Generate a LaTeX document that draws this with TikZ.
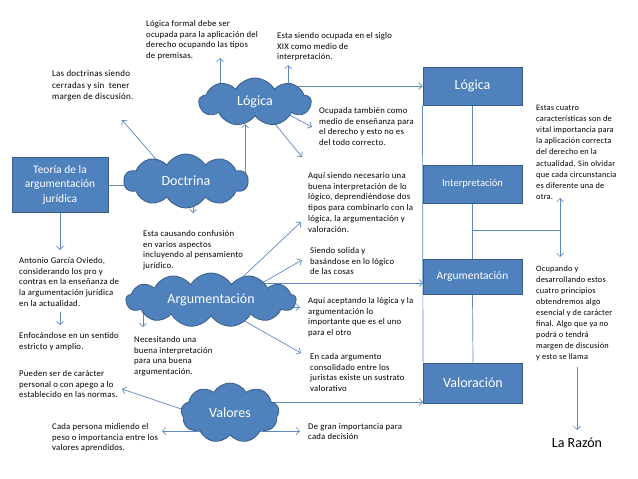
\documentclass[tikz,border=0pt]{standalone}
\usepackage{fontspec}
\setmainfont{Carlito}
\newfontfamily\smallfont[LetterSpace=2.5]{Carlito}
\usetikzlibrary{shapes.symbols,arrows.meta}
\pgfdeclarelayer{background}
\pgfsetlayers{background,main}
\definecolor{boxblue}{HTML}{4F81BD}
\definecolor{boxedge}{HTML}{385D8A}
\definecolor{linkblue}{HTML}{5B87C2}
\tikzset{
  bluebox/.style={draw=boxedge, line width=1pt, fill=boxblue, text=white, align=center, inner sep=0pt},
  bluecloud/.style={cloud, cloud puffs=10, cloud puff arc=120, cloud ignores aspect, draw=boxedge, line width=0.8pt, fill=boxblue, text=white, inner sep=0pt, font=\fontsize{14}{16}\selectfont},
  txt/.style={anchor=north west, align=left, inner sep=0pt, font=\smallfont\fontsize{8.7}{10.8}\selectfont},
  arr/.style={draw=linkblue, line width=0.7pt, -{Straight Barb[length=3.5pt,width=7pt]}},
  lnk/.style={draw=linkblue, line width=0.7pt}
}
\begin{document}
\begin{tikzpicture}[x=1pt,y=-1pt]
\useasboundingbox (0,0) rectangle (638,479);
% boxes
\node[bluebox, minimum width=96pt, minimum height=55pt, font=\fontsize{11.5}{14.5}\selectfont] (teo) at (60,184.5) {Teoría de la\\argumentación\\jurídica};
\node[bluebox, minimum width=99pt, minimum height=38pt, font=\fontsize{14}{16}\selectfont] (logbox) at (472.5,86) {Lógica};
\node[bluebox, minimum width=99pt, minimum height=38pt, font=\fontsize{10.5}{12}\selectfont] (intbox) at (472.5,184) {Interpretación};
\node[bluebox, minimum width=99pt, minimum height=35pt, font=\fontsize{11.5}{13}\selectfont] (argbox) at (472.5,276.5) {Argumentación};
\node[bluebox, minimum width=99pt, minimum height=40pt, font=\fontsize{14}{16}\selectfont] (valbox) at (473,383) {Valoración};
% clouds
\node[bluecloud, minimum width=124pt, minimum height=54pt] (doc) at (186,181) {Doctrina};
\node[bluecloud, cloud puffs=9, minimum width=112pt, minimum height=48pt] (log) at (255,102) {Lógica};
\node[bluecloud, cloud puffs=13, minimum width=170pt, minimum height=54pt] (arg) at (211,300) {Argumentación};
\node[bluecloud, cloud puffs=9, minimum width=98pt, minimum height=60pt] (val) at (230,413) {Valores};
% texts
\node[txt] (tformal) at (146,20) {Lógica formal debe ser\\ocupada para la aplicación del\\derecho ocupando las tipos\\de premisas.};
\node[txt] (tsiglo) at (277,32) {Esta siendo ocupada en el siglo\\XIX como medio de\\interpretación.};
\node[txt, font=\smallfont\fontsize{9}{11.7}\selectfont] (tlasdoc) at (52,70) {Las doctrinas siendo\\cerradas y sin\ \ tener\\margen de discusión.};
\node[txt] (tocup) at (319,107) {Ocupada también como\\medio de enseñanza para\\el derecho y esto no es\\del todo correcto.};
\node[txt, font=\smallfont\fontsize{8.3}{11.1}\selectfont] (tcuatro) at (536,105) {Estas cuatro\\características son de\\vital importancia para\\la aplicación correcta\\del derecho en la\\actualidad. Sin olvidar\\que cada circunstancia\\es diferente una de\\otra.};
\node[txt] (taqui1) at (308,172) {Aquí siendo necesario una\\buena interpretación de lo\\lógico, deprendiéndose dos\\tipos para combinarlo con la\\lógica, la argumentación y\\valoración.};
\node[txt] (tconf) at (143,230) {Esta causando confusión\\en varios aspectos\\incluyendo al pensamiento\\jurídico.};
\node[txt] (tsiendo) at (310,247) {Siendo solida y\\basándose en lo lógico\\de las cosas};
\node[txt] (tant) at (19,257) {Antonio García Oviedo,\\considerando los pro y\\contras en la enseñanza de\\la argumentación jurídica\\en la actualidad.};
\node[txt] (taqui2) at (308,297) {Aquí aceptando la lógica y la\\argumentación lo\\importante que es el uno\\para el otro};
\node[txt] (tenf) at (19,332) {Enfocándose en un sentido\\estricto y amplio.};
\node[txt] (tnec) at (134,336) {Necesitando una\\buena interpretación\\para una buena\\argumentación.};
\node[txt] (ten) at (310,353) {En cada argumento\\consolidado entre los\\juristas existe un sustrato\\valorativo};
\node[txt, font=\smallfont\fontsize{8.3}{11}\selectfont] (tocupando) at (536,266) {Ocupando y\\desarrollando estos\\cuatro principios\\obtendremos algo\\esencial y de carácter\\final. Algo que ya no\\podrá o tendrá\\margen de discusión\\y esto se llama};
\node[txt] (tpued) at (19,370) {Pueden ser de carácter\\personal o con apego a lo\\establecido en las normas.};
\node[txt] (tcada) at (52,423) {Cada persona midiendo el\\peso o importancia entre los\\valores aprendidos.};
\node[txt] (tde) at (308,423) {De gran importancia para\\cada decisión};
\node[inner sep=0pt, font=\fontsize{14}{16}\selectfont] (razon) at (577,443) {La Razón};
% free-end coordinates
\coordinate (cDocL) at (131,185);
\coordinate (cLasdoc) at (122,120);
\coordinate (cDocA) at (175,181);
\coordinate (cLogUp) at (245,124);
\coordinate (cConf) at (193,213);
\coordinate (cFormal) at (220,58);
\coordinate (cSiglo) at (288,65);
\coordinate (cOcupS) at (280,110);
\coordinate (cOcup) at (312,127);
\coordinate (cLogB) at (262,108);
\coordinate (cAqui1) at (302,157);
\coordinate (cAnt) at (60,250);
\coordinate (cEnfS) at (60,312);
\coordinate (cEnf) at (60,325);
\coordinate (cNec) at (143,327);
\coordinate (cArgA) at (230,289);
\coordinate (cArgAT) at (301,222);
\coordinate (cArgB) at (250,290);
\coordinate (cSiendo) at (302,260);
\coordinate (hArg) at (423,283);
\coordinate (cAqui2S) at (270,307);
\coordinate (cAqui2) at (300,307);
\coordinate (cArgC) at (225,310);
\coordinate (cEn) at (301,353);
\coordinate (cValA) at (205,417);
\coordinate (cPued) at (122,389);
\coordinate (cCada) at (162,431);
\coordinate (hVal) at (423,402);
\coordinate (cDe) at (300,431);
\coordinate (br) at (560,230);
\coordinate (cUp) at (560,198);
\coordinate (cDown) at (560,257);
\coordinate (cRazS) at (577,367);
\coordinate (cRaz) at (577,430);
\begin{pgfonlayer}{background}
\draw[arr] (teo.east |- cDocL) -- (cDocL);
\draw[arr] (cDocA) -- (cLasdoc);
\draw[arr] (cLogUp |- doc.center) -- (cLogUp);
\draw[arr] (cConf |- doc.center) -- (cConf);
\draw[arr] (cFormal |- log.center) -- (cFormal);
\draw[arr] (cSiglo |- log.center) -- (cSiglo);
\draw[arr] (cSiglo |- logbox.west) -- (logbox.west);
\draw[arr] (cOcupS) -- (cOcup);
\draw[arr] (cLogB) -- (cAqui1);
\draw[arr] (teo.south) -- (cAnt);
\draw[arr] (cEnfS) -- (cEnf);
\draw[arr] (cNec |- arg.center) -- (cNec);
\draw[arr] (cArgA) -- (cArgAT);
\draw[arr] (cArgB) -- (cSiendo);
\draw[arr] (arg.center |- hArg) -- (hArg);
\draw[arr] (cAqui2S) -- (cAqui2);
\draw[arr] (cArgC) -- (cEn);
\draw[arr] (cValA) -- (cPued);
\draw[arr] (val.center |- cCada) -- (cCada);
\draw[arr] (val.center |- hVal) -- (hVal);
\draw[arr] (val.center |- cDe) -- (cDe);
% right column links
\draw[lnk] (logbox.south) -- (intbox.north);
\draw[lnk] (intbox.south) -- (argbox.north);
\draw[lnk] (argbox.south) -- (valbox.north);
\draw[lnk] (logbox.south west) -- (valbox.north west);
\draw[lnk] (intbox.south |- br) -- (br);
\draw[arr] (br) -- (cUp);
\draw[arr] (br) -- (cDown);
\draw[arr] (cRazS) -- (cRaz);
\end{pgfonlayer}
\end{tikzpicture}
\end{document}
